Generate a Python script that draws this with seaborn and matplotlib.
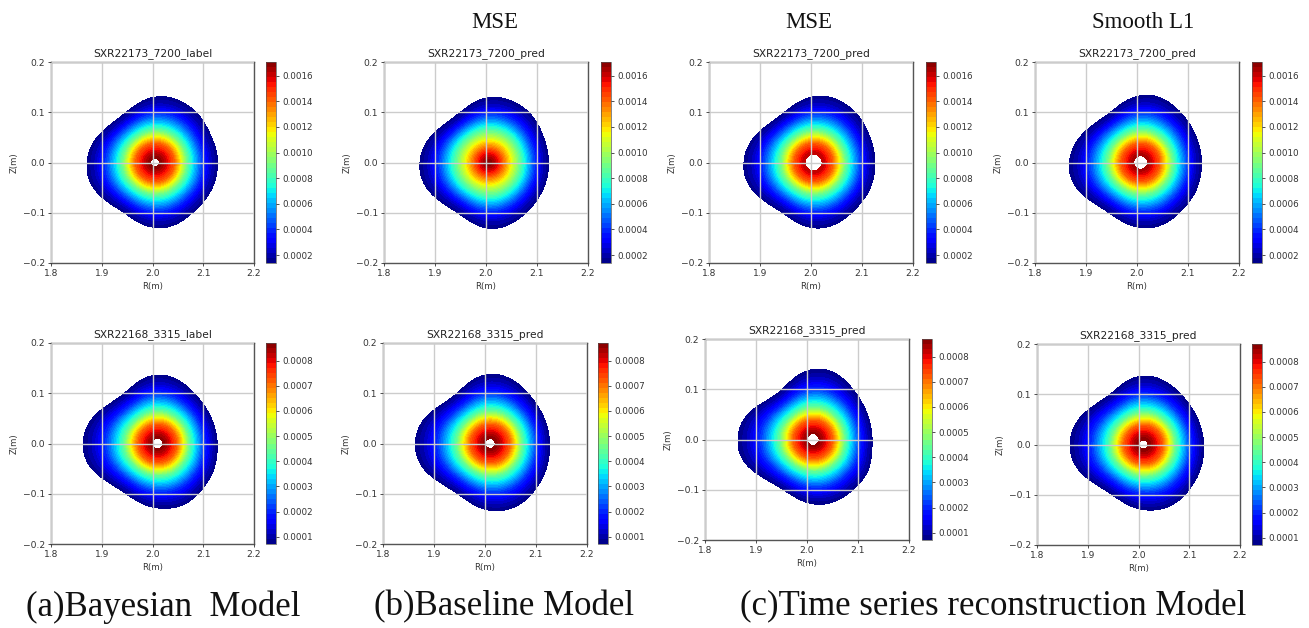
import matplotlib

matplotlib.use("Agg")
import matplotlib.pyplot as plt
import numpy as np
import seaborn as sns

# outer edge of the plasma, distance (m) from the centre every 15 deg
EDGE_TL = [.123, .122, .121, .127, .130, .133, .131, .122, .113, .113, .120, .130, .134, .135, .127, .118, .115, .123, .130, .131, .125, .122, .123, .123]
EDGE_TB = [.117, .117, .119, .125, .129, .131, .130, .121, .112, .112, .120, .130, .135, .135, .127, .118, .115, .123, .132, .131, .125, .121, .119, .118]
EDGE_TT = [.120, .120, .121, .127, .131, .134, .132, .122, .113, .113, .122, .132, .137, .137, .128, .118, .115, .123, .131, .131, .126, .122, .122, .121]
EDGE_TS = [.119, .119, .120, .124, .129, .136, .134, .124, .114, .115, .124, .134, .140, .140, .129, .118, .116, .123, .130, .132, .127, .123, .122, .120]
EDGE_BL = [.117, .116, .117, .119, .125, .134, .138, .130, .118, .118, .130, .143, .147, .145, .130, .118, .116, .123, .128, .132, .131, .125, .123, .119]
EDGE_BB = [.116, .116, .117, .120, .127, .136, .139, .131, .118, .117, .129, .143, .147, .145, .131, .119, .117, .125, .134, .136, .133, .126, .122, .118]
EDGE_BT = [.115, .115, .118, .122, .131, .141, .141, .129, .115, .114, .128, .144, .148, .146, .130, .117, .114, .120, .129, .131, .128, .125, .125, .117]
EDGE_BS = [.118, .117, .118, .120, .126, .134, .138, .130, .118, .119, .130, .142, .145, .143, .130, .118, .116, .123, .130, .133, .132, .126, .123, .120]

# signal against fraction of the way out to the edge
PROFILE_F = [0, .07, .16, .30, .40, .49, .60, .73, .88, 1.0]
VALUES_TOP = [.00172, .0017, .0016, .0014, .00115, .0009, .00068, .00044, .00023, .00014]
VALUES_TOP_BASE = [.00172, .00165, .00152, .00125, .00105, .00088, .00068, .00044, .00023, .00014]
VALUES_BOTTOM = [.00088, .00087, .00082, .00071, .00058, .00045, .00034, .00022, .00012, .00007]

TICKS_TOP = [.0002, .0004, .0006, .0008, .0010, .0012, .0014, .0016]
TICKS_BOTTOM = [.0001, .0002, .0003, .0004, .0005, .0006, .0007, .0008]
RANGE_TOP = (.000138, .001707)
RANGE_BOTTOM = (.000071, .00087)

R_TICKS = [1.8, 1.9, 2.0, 2.1, 2.2]
Z_TICKS = [-0.2, -0.1, 0.0, 0.1, 0.2]

TITLES = [
    "SXR22173_7200_label", "SXR22173_7200_pred", "SXR22173_7200_pred", "SXR22173_7200_pred",
    "SXR22168_3315_label", "SXR22168_3315_pred", "SXR22168_3315_pred", "SXR22168_3315_pred",
]
EDGES = [EDGE_TL, EDGE_TB, EDGE_TT, EDGE_TS, EDGE_BL, EDGE_BB, EDGE_BT, EDGE_BS]
PROFILES = [VALUES_TOP, VALUES_TOP_BASE, VALUES_TOP, VALUES_TOP] + [VALUES_BOTTOM] * 4
CENTRE_R = [2.005, 2.005, 2.005, 2.007, 2.010, 2.010, 2.012, 2.010]
HOLE = [.009, 0, .017, .014, .011, .010, .012, .009]

# left, right, top, bottom of axes then colorbar left, right, in pixels
BOXES = [
    (51, 254, 62, 263, 266, 276), (384, 588, 62, 263, 601, 611),
    (709, 913, 62, 263, 926, 936), (1035, 1239, 62, 263, 1252, 1262),
    (51, 254, 343, 544, 266, 276), (383, 587, 343, 544, 598, 608),
    (705, 909, 339, 540, 922, 932), (1037, 1240, 344, 545, 1252, 1262),
]

W, H = 1309, 628

sns.set_theme(
    style="whitegrid",
    rc={
        "axes.edgecolor": "#555555",
        "axes.linewidth": 1.0,
        "axes.axisbelow": False,
        "axes.labelcolor": "#333333",
        "text.color": "#222222",
        "xtick.color": "#333333",
        "ytick.color": "#333333",
        "xtick.bottom": True,
        "ytick.left": True,
        "xtick.major.size": 2.5,
        "ytick.major.size": 2.5,
        "xtick.major.width": 0.6,
        "ytick.major.width": 0.6,
        "grid.color": "#cccccc",
        "grid.linewidth": 1.0,
        "font.family": "DejaVu Sans",
    },
)


def px_axes(fig, left, right, top, bottom):
    return fig.add_axes([left / W, 1 - bottom / H, (right - left) / W, (bottom - top) / H])


def smooth_edge(edge, angles):
    """resample the edge radii on the fine angle grid and round the corners off"""
    step = 2 * np.pi / len(edge)
    fine = np.interp(angles[:-1], np.arange(len(edge)) * step, edge, period=2 * np.pi)
    kernel = np.ones(21) / 21
    smooth = np.convolve(np.tile(fine, 3), kernel, mode="same")[len(fine) : 2 * len(fine)]
    return np.append(smooth, smooth[0])


def draw_panel(fig, i):
    left, right, top, bottom, cb_left, cb_right = BOXES[i]
    ax = px_axes(fig, left, right, top, bottom)
    cax = px_axes(fig, cb_left, cb_right, top, bottom)

    vmin, vmax = RANGE_TOP if i < 4 else RANGE_BOTTOM
    ticks = TICKS_TOP if i < 4 else TICKS_BOTTOM

    angles = np.linspace(0, 2 * np.pi, 361)
    edge = smooth_edge(EDGES[i], angles)
    mean_edge = np.mean(EDGES[i])
    start = HOLE[i] / mean_edge
    fractions = np.linspace(start, 1, 120)

    # rings are near round in the core and take the edge shape further out
    ang, frac = np.meshgrid(angles, fractions)
    rho = frac * (mean_edge + (edge - mean_edge) * frac**2)
    x = CENTRE_R[i] + rho * np.cos(ang)
    y = rho * np.sin(ang)
    z = np.clip(np.interp(frac, PROFILE_F, PROFILES[i]), vmin, vmax)

    levels = np.linspace(vmin, vmax, 41)
    cf = ax.contourf(x, y, z, levels=levels, cmap="jet")
    cf.set_edgecolor("face")
    cf.set_linewidth(0.2)

    ax.set_xlim(1.8, 2.2)
    ax.set_ylim(-0.2, 0.2)
    ax.set_xticks(R_TICKS)
    ax.set_yticks(Z_TICKS)
    ax.tick_params(labelsize=6.6, pad=2)
    ax.grid(True)
    ax.set_title(TITLES[i], fontsize=7.7, pad=4.5)
    ax.set_xlabel("R(m)", fontsize=6.1, labelpad=2.5)
    ax.set_ylabel("Z(m)", fontsize=6.1, labelpad=2.5)

    cbar = fig.colorbar(cf, cax=cax, ticks=ticks, format="%.4f")
    cbar.ax.tick_params(labelsize=6.3, length=2.5, width=0.6, pad=2)
    cbar.outline.set_linewidth(0.5)
    cbar.ax.grid(False)


def main():
    fig = plt.figure(figsize=(W / 100, H / 100), dpi=100, facecolor="white")
    for i in range(len(TITLES)):
        draw_panel(fig, i)

    serif = ["Liberation Serif"]
    for label, x_px in [("MSE", 495), ("MSE", 809), ("Smooth L1", 1143)]:
        fig.text(x_px / W, 1 - 22 / H, label, family=serif, fontsize=16.5, ha="center", va="center", color="#111111")
    for label, x_px in [
        ("(a)Bayesian  Model", 163),
        ("(b)Baseline Model", 504),
        ("(c)Time series reconstruction Model", 993),
    ]:
        fig.text(x_px / W, 1 - 607 / H, label, family=serif, fontsize=25, ha="center", va="center", color="#111111")

    fig.savefig("out.png", dpi=100, facecolor="white")


main()
